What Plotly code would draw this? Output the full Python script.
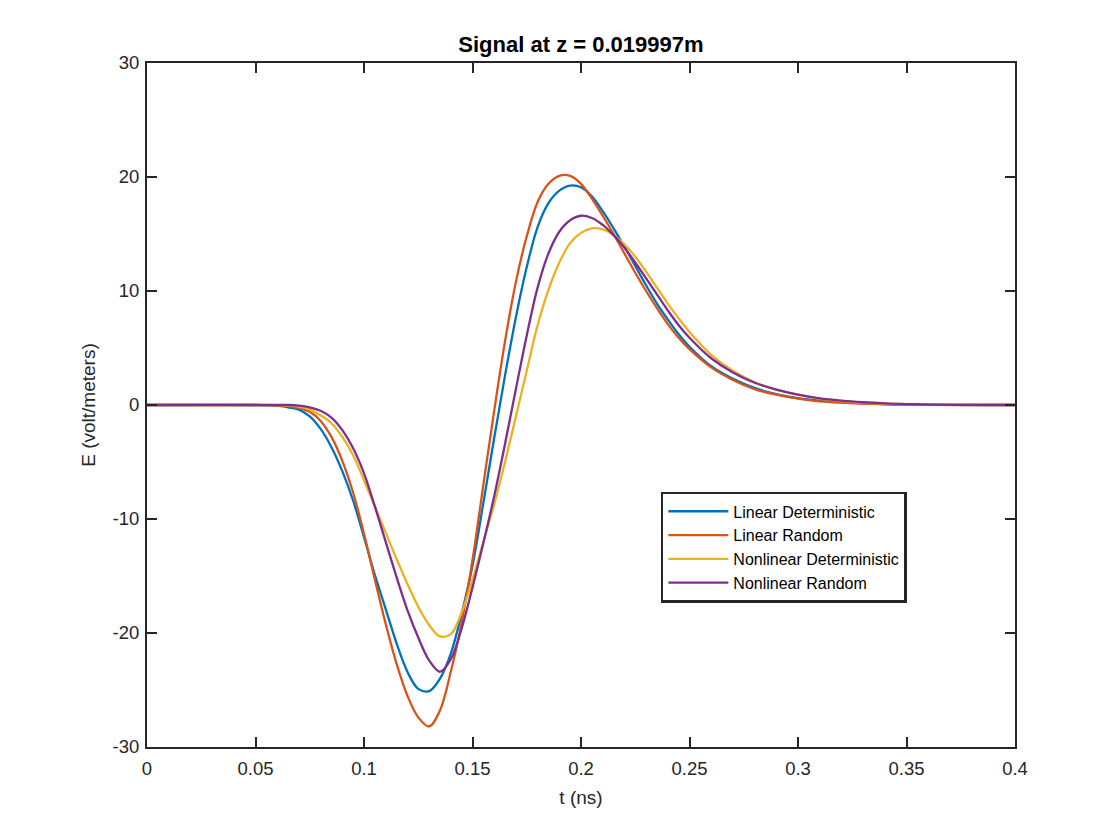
import plotly.graph_objects as go

# ---- data ----
t_ns = [0.0, 0.05, 0.06, 0.065, 0.07, 0.075, 0.08, 0.085, 0.09, 0.095, 0.10, 0.105, 0.11, 0.115,
        0.12, 0.125, 0.13, 0.135, 0.14, 0.145, 0.15, 0.155, 0.16, 0.165, 0.17, 0.175, 0.18,
        0.185, 0.19, 0.195, 0.20, 0.205, 0.21, 0.215, 0.22, 0.225, 0.23, 0.235, 0.24, 0.245,
        0.25, 0.26, 0.27, 0.28, 0.29, 0.30, 0.31, 0.32, 0.33, 0.34, 0.35, 0.36, 0.38, 0.40]

linear_det = [0.0, 0.0, -0.05, -0.2, -0.4, -1.0, -2.1, -3.7, -5.8, -8.4, -11.6, -14.9, -17.9, -20.9,
              -23.4, -24.9, -25.1, -24.0, -21.8, -18.3, -14.1, -8.6, -2.9, 2.6, 7.7, 12.1, 15.6,
              17.7, 18.8, 19.25, 19.1, 18.3, 17.0, 15.5, 13.9, 12.2, 10.5, 8.9, 7.5, 6.2,
              5.1, 3.4, 2.3, 1.5, 0.95, 0.6, 0.38, 0.24, 0.14, 0.08, 0.04, 0.02, 0.0, 0.0]

linear_rand = [0.0, 0.0, -0.03, -0.1, -0.25, -0.6, -1.4, -2.8, -4.9, -7.7, -11.3, -15.3, -19.2, -22.7,
               -25.5, -27.4, -28.2, -26.8, -23.4, -19.1, -13.6, -7.0, -0.5, 5.6, 10.8, 14.8, 17.8,
               19.4, 20.1, 20.1, 19.4, 18.1, 16.6, 15.0, 13.3, 11.6, 10.0, 8.5, 7.1, 5.9,
               4.9, 3.3, 2.2, 1.4, 0.9, 0.55, 0.32, 0.2, 0.12, 0.06, 0.03, 0.01, 0.0, 0.0]

nonlinear_det = [0.0, 0.0, -0.01, -0.05, -0.15, -0.4, -0.9, -1.6, -2.8, -4.4, -6.6, -8.9, -11.2, -13.5,
                 -15.7, -17.7, -19.3, -20.3, -20.1, -18.2, -15.3, -12.0, -8.7, -5.0, -1.0, 3.0, 7.0,
                 10.1, 12.5, 14.2, 15.1, 15.5, 15.4, 14.9, 14.1, 13.0, 11.7, 10.3, 8.9, 7.6,
                 6.4, 4.4, 3.0, 2.0, 1.35, 0.9, 0.55, 0.35, 0.2, 0.12, 0.07, 0.04, 0.01, 0.0]

nonlinear_rand = [0.0, 0.0, 0.0, 0.0, -0.05, -0.2, -0.5, -1.1, -2.2, -3.8, -6.0, -8.9, -12.0, -15.1,
                  -18.0, -20.4, -22.4, -23.4, -22.3, -19.6, -16.0, -12.1, -8.0, -3.4, 1.4, 6.1, 10.3,
                  13.3, 15.2, 16.2, 16.6, 16.4, 15.8, 14.9, 13.8, 12.5, 11.1, 9.7, 8.3, 7.0,
                  5.9, 4.1, 2.85, 1.95, 1.35, 0.9, 0.58, 0.38, 0.24, 0.14, 0.08, 0.04, 0.01, 0.0]

series_names = ["Linear Deterministic", "Linear Random", "Nonlinear Deterministic", "Nonlinear Random"]
series_colors = ["#0072BD", "#D95319", "#EDB120", "#7E2F8E"]

x_tick_vals = [0, 0.05, 0.1, 0.15, 0.2, 0.25, 0.3, 0.35, 0.4]
x_tick_text = ["0", "0.05", "0.1", "0.15", "0.2", "0.25", "0.3", "0.35", "0.4"]
y_tick_vals = [-30, -20, -10, 0, 10, 20, 30]
y_tick_text = ["-30", "-20", "-10", "0", "10", "20", "30"]

FONT = "Liberation Sans, Arial, Helvetica, sans-serif"

# ---- figure ----
fig = go.Figure()
for name, ys, col in zip(series_names, [linear_det, linear_rand, nonlinear_det, nonlinear_rand], series_colors):
    fig.add_trace(go.Scatter(x=t_ns, y=ys, mode="lines", name=name,
                             line=dict(color=col, width=2.3, shape="spline", smoothing=1.0)))

axis_common = dict(showgrid=False, zeroline=False, showline=True, linecolor="#262626", linewidth=2,
                   mirror="allticks", ticks="inside", ticklen=10, tickwidth=2, tickcolor="#262626",
                   tickfont=dict(family=FONT, size=18.5, color="#262626"))

fig.update_layout(
    width=1120, height=840,
    paper_bgcolor="white", plot_bgcolor="white",
    margin=dict(l=147, r=105, t=63, b=93),
    title=dict(text="<b>Signal at z = 0.019997m</b>", x=0.5187, xanchor="center", y=0.947, yanchor="middle",
               font=dict(family=FONT, size=22, color="black")),
    xaxis=dict(range=[0, 0.4], tickvals=x_tick_vals, ticktext=x_tick_text, ticklabelstandoff=4,
               title=dict(text="t (ns)", standoff=12, font=dict(family=FONT, size=19, color="#262626")),
               **axis_common),
    yaxis=dict(range=[-30, 30], tickvals=y_tick_vals, ticktext=y_tick_text, ticklabelstandoff=2,
               title=dict(text="E (volt/meters)", standoff=12, font=dict(family=FONT, size=19, color="#262626")),
               **axis_common),
    legend=dict(x=0.592, y=0.373, xanchor="left", yanchor="top",
                bgcolor="white", bordercolor="#262626", borderwidth=2.5,
                font=dict(family=FONT, size=16, color="black"),
                itemwidth=60, tracegroupgap=0, entrywidth=265, entrywidthmode="pixels"),
    showlegend=True,
)

fig.write_html("out.html")
